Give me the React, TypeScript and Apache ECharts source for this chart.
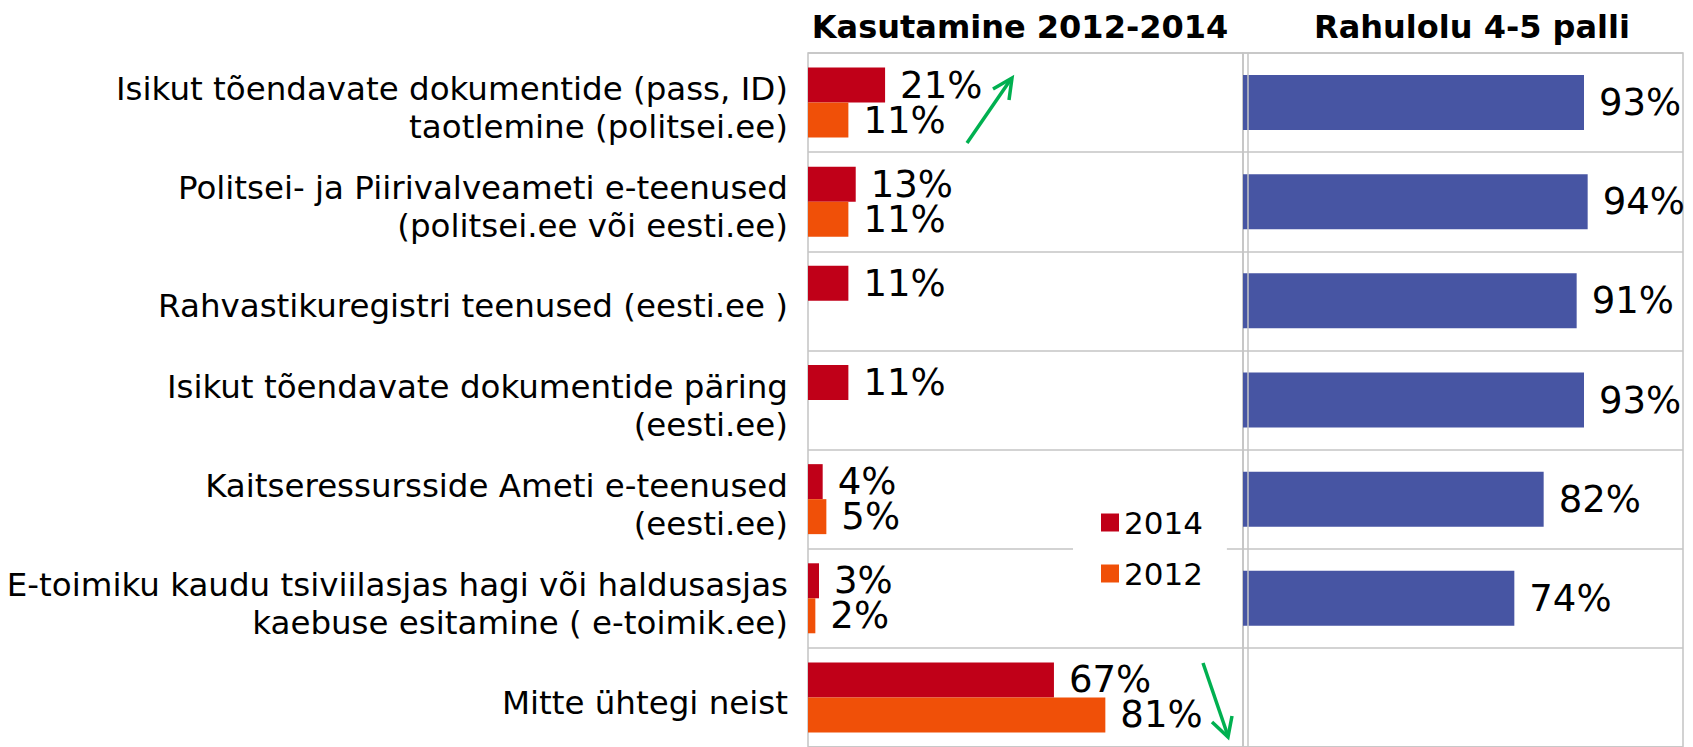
import React, { useEffect, useRef } from "react";
import * as echarts from "echarts";

const categories = [
  "Isikut tõendavate dokumentide (pass, ID)\ntaotlemine (politsei.ee)",
  "Politsei- ja Piirivalveameti e-teenused\n(politsei.ee või eesti.ee)",
  "Rahvastikuregistri teenused (eesti.ee )",
  "Isikut tõendavate dokumentide päring\n(eesti.ee)",
  "Kaitseressursside Ameti e-teenused\n(eesti.ee)",
  "E-toimiku kaudu tsiviilasjas hagi või haldusasjas\nkaebuse esitamine ( e-toimik.ee)",
  "Mitte ühtegi neist",
];
const use2014 = [21, 13, 11, 11, 4, 3, 67];
const use2012 = [11, 11, null, null, 5, 2, 81];
const satisfaction = [93, 94, 91, 93, 82, 74, null];
const legendLabels = ["2014", "2012"];
const panelTitles = ["Kasutamine 2012-2014", "Rahulolu 4-5 palli"];

const RED = "#C00018";
const ORANGE = "#F05008";
const BLUE = "#4755A3";
const GREEN = "#00B050";
const GRIDC = "#c4c4c4";
const FONT = "DejaVu Sans";

export default function App() {
  const ref = useRef<HTMLDivElement>(null);
  useEffect(() => {
    document.body.style.margin = "0";
    if (!ref.current) return;
    const chart = echarts.init(ref.current, null, { renderer: "svg" });
    const valueLabel = {
      show: true,
      position: "right",
      distance: 15,
      formatter: "{c}%",
      fontSize: 37,
      lineHeight: 33,
      fontFamily: FONT,
      color: "#000",
    };
    const option = {
      animation: false,
      backgroundColor: "#fff",
      legend: {
        data: legendLabels,
        orient: "vertical",
        left: 1073,
        top: 497,
        padding: [10, 24, 10, 28],
        itemWidth: 18,
        itemHeight: 18,
        itemGap: 20,
        backgroundColor: "#fff",
        icon: "rect",
        textStyle: { fontSize: 31, fontFamily: FONT, color: "#000" },
        z: 10,
      },
      grid: [
        { left: 808, top: 53, width: 435, height: 697, show: true, borderColor: GRIDC, borderWidth: 1.5 },
        { left: 1243, top: 53, width: 440, height: 697, show: true, borderColor: GRIDC, borderWidth: 1.5 },
      ],
      xAxis: [
        { gridIndex: 0, type: "value", min: 0, max: 118.5, show: false },
        { gridIndex: 1, type: "value", min: 0, max: 120, show: false },
      ],
      yAxis: [
        {
          gridIndex: 0,
          type: "category",
          data: categories,
          inverse: true,
          axisLine: { show: false },
          axisTick: { show: false },
          splitLine: { show: true, interval: 0, lineStyle: { color: GRIDC, width: 1.5 } },
          axisLabel: {
            interval: 0,
            margin: 20,
            align: "right",
            formatter: (v: string) =>
              "{s| }\n" + v.split("\n").map((l) => "{a|" + l + "}").join("\n"),
            rich: {
              s: { fontSize: 1, lineHeight: 11, height: 11 },
              a: { fontSize: 32.5, lineHeight: 38, fontFamily: FONT, color: "#000" },
            },
          },
        },
        {
          gridIndex: 1,
          type: "category",
          data: categories,
          inverse: true,
          axisLine: { show: false },
          axisTick: { show: false },
          axisLabel: { show: false },
          splitLine: { show: true, interval: 0, lineStyle: { color: GRIDC, width: 1.5 } },
        },
      ],
      series: [
        {
          name: legendLabels[0],
          type: "bar",
          xAxisIndex: 0,
          yAxisIndex: 0,
          data: use2014,
          barWidth: 35,
          barGap: "0%",
          itemStyle: { color: RED },
          label: valueLabel,
        },
        {
          name: legendLabels[1],
          type: "bar",
          xAxisIndex: 0,
          yAxisIndex: 0,
          data: use2012,
          barWidth: 35,
          barGap: "0%",
          itemStyle: { color: ORANGE },
          label: valueLabel,
        },
        {
          name: "Rahulolu",
          type: "bar",
          xAxisIndex: 1,
          yAxisIndex: 1,
          data: satisfaction,
          barWidth: 55,
          itemStyle: { color: BLUE },
          label: valueLabel,
        },
      ],
      graphic: [
        {
          type: "text",
          x: 1020,
          y: 27,
          z: 100,
          style: {
            text: panelTitles[0],
            align: "center",
            verticalAlign: "middle",
            fontSize: 32,
            fontWeight: "bold",
            fontFamily: FONT,
            fill: "#000",
          },
        },
        {
          type: "text",
          x: 1472,
          y: 27,
          z: 100,
          style: {
            text: panelTitles[1],
            align: "center",
            verticalAlign: "middle",
            fontSize: 32,
            fontWeight: "bold",
            fontFamily: FONT,
            fill: "#000",
          },
        },
        {
          type: "line",
          z: 100,
          shape: { x1: 1248, y1: 53, x2: 1248, y2: 747 },
          style: { stroke: GRIDC, lineWidth: 1.5 },
        },
        {
          type: "line",
          z: 100,
          shape: { x1: 967, y1: 143, x2: 1011, y2: 79 },
          style: { stroke: GREEN, lineWidth: 3.5 },
        },
        {
          type: "polyline",
          z: 100,
          shape: { points: [[993, 89], [1012, 78], [1009, 100]] },
          style: { stroke: GREEN, lineWidth: 3.5, fill: "none" },
        },
        {
          type: "line",
          z: 100,
          shape: { x1: 1203, y1: 663, x2: 1228, y2: 736 },
          style: { stroke: GREEN, lineWidth: 3.5 },
        },
        {
          type: "polyline",
          z: 100,
          shape: { points: [[1212, 722], [1228, 737], [1232, 716]] },
          style: { stroke: GREEN, lineWidth: 3.5, fill: "none" },
        },
      ],
    };
    chart.setOption(option as any);
    return () => chart.dispose();
  }, []);
  return <div ref={ref} style={{ width: 1693, height: 747 }} />;
}
